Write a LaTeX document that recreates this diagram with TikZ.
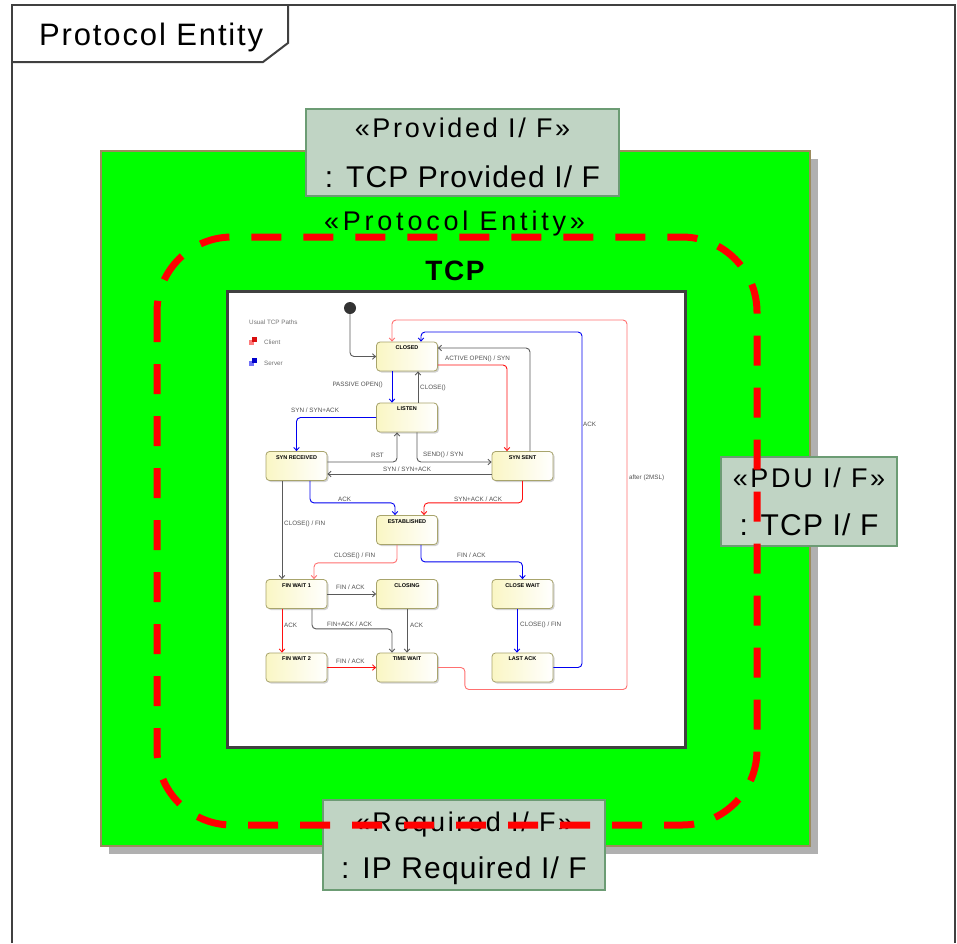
\documentclass[tikz,border=0pt]{standalone}
\usepackage{fontspec}
\setmainfont{Liberation Sans}
\newfontfamily\stereofont[LetterSpace=10]{Liberation Sans}
\newfontfamily\entityfont[LetterSpace=14]{Liberation Sans}
\newfontfamily\namefont[LetterSpace=4]{Liberation Sans}
\newfontfamily\titlefont[LetterSpace=6]{Liberation Sans}
\usetikzlibrary{arrows.meta,shadows}
\definecolor{framegray}{HTML}{404040}
\definecolor{entitygreen}{HTML}{00FF00}
\definecolor{entityrim}{HTML}{9C8C5C}
\definecolor{shadowgray}{HTML}{B0B0B0}
\definecolor{portfill}{HTML}{C0D4C4}
\definecolor{portrim}{HTML}{6C9C74}
\definecolor{statefill}{HTML}{FAF6C4}
\definecolor{staterim}{HTML}{A8A46C}
\definecolor{pathgray}{HTML}{5A5A5A}
\definecolor{pathblue}{HTML}{0000F0}
\definecolor{pathred}{HTML}{FF1010}
\definecolor{pathsalmon}{HTML}{FF7070}
\definecolor{lblgray}{HTML}{505050}
\begin{document}
\begin{tikzpicture}
	[x=1pt, y=-1pt,
	frame line/.style={draw=framegray, line width=2pt},
	entity/.style={fill=entitygreen, draw=entityrim, line width=1.2pt,
		minimum width=709pt, minimum height=695pt, inner sep=0pt,
		drop shadow={shadow xshift=8pt, shadow yshift=-8pt, fill=shadowgray, opacity=1}},
	port/.style={fill=portfill, draw=portrim, line width=2pt, align=center, inner sep=0pt,
		font=\stereofont\fontsize{27}{48}\selectfont},
	state/.style={draw=staterim, line width=0.8pt, rounded corners=3.5pt,
		minimum width=61pt, minimum height=29pt, inner sep=0pt,
		left color=statefill, right color=white,
		drop shadow={shadow xshift=1.5pt, shadow yshift=-1.5pt, fill=black!35, opacity=0.5},
		label={[anchor=north, inner sep=0pt, yshift=-4pt, font=\bfseries\fontsize{5.5}{6}\selectfont]north:#1}},
	trans/.style={line width=0.9pt, rounded corners=4pt, -{Straight Barb[length=3pt, width=5.5pt]}},
	trlbl/.style={anchor=west, inner sep=0pt, text=lblgray, font=\fontsize{6.3}{7}\selectfont}]
	\useasboundingbox (0,0) rectangle (957,943);
	\draw[frame line] (12,943) -- (12,5) -- (955,5) -- (955,943);
	\draw[frame line] (12,62) -- (263,62) -- (288,43) -- (288,5);
	\node[anchor=base west, inner sep=0pt, font=\titlefont\fontsize{31}{34}\selectfont] (frame title) at (39,45) {Protocol Entity};
	\node[entity] (entity) at (455.5,498.5) {};
	\node[port, minimum width=313pt, minimum height=87pt] (provided) at (462.5,152.5)
		{«Provided I/ F»\\[2pt]{\namefont\fontsize{30}{48}\selectfont : TCP Provided I/ F}};
	\node[port, minimum width=176pt, minimum height=89pt] (pdu) at (809,501.5)
		{«PDU I/ F»\\{\namefont\fontsize{30}{48}\selectfont : TCP I/ F}};
	\node[port, minimum width=282pt, minimum height=90pt] (required) at (464,845)
		{«Required I/ F»\\[-1pt]{\namefont\fontsize{30}{48}\selectfont\raisebox{0pt}[\height][0pt]{: IP Required I/ F}}};
	\node[anchor=base, inner sep=0pt, font=\entityfont\fontsize{27}{30}\selectfont] (stereo) at (454.5,230) {«Protocol Entity»};
	\node[anchor=base, inner sep=0pt, font=\titlefont\fontsize{28}{30}\selectfont\bfseries] (tcp name) at (455,280) {TCP};
	\node[draw=framegray, fill=white, line width=3pt, minimum width=458pt, minimum height=456pt, inner sep=0pt] (tcp) at (456,519) {};
	\node[anchor=west, inner sep=0pt, text=black!55, font=\fontsize{6.3}{7}\selectfont] (legend) at (249,322) {Usual TCP Paths};
	\fill[pathred!55] (249,340) rectangle (254,345);
	\fill[pathred!85!black] (252,337) rectangle (257,342);
	\fill[pathblue!55] (249,361) rectangle (254,366);
	\fill[pathblue!85!black] (252,358) rectangle (257,363);
	\node[anchor=west, inner sep=0pt, text=black!55, font=\fontsize{6.3}{7}\selectfont] (client) at (264,342) {Client};
	\node[anchor=west, inner sep=0pt, text=black!55, font=\fontsize{6.3}{7}\selectfont] (server) at (264,363) {Server};
	\node[circle, fill=black!80, minimum size=12pt, inner sep=0pt] (init) at (350,308) {};
	\node[state=CLOSED] (closed) at (407,356.5) {};
	\node[state=LISTEN] (listen) at (407,417.5) {};
	\node[state=SYN RECEIVED] (synrcvd) at (296.5,466) {};
	\node[state=SYN SENT] (synsent) at (522.5,466) {};
	\node[state=ESTABLISHED] (estab) at (407,530) {};
	\node[state=FIN WAIT 1] (finwait1) at (296.5,594) {};
	\node[state=CLOSING] (closing) at (407,594) {};
	\node[state=CLOSE WAIT] (closewait) at (522.5,594) {};
	\node[state=FIN WAIT 2] (finwait2) at (296.5,667.5) {};
	\node[state=TIME WAIT] (timewait) at (407,667.5) {};
	\node[state=LAST ACK] (lastack) at (522.5,667.5) {};
	\draw[trans, color=pathgray] (init) |- (closed.west);
	\draw[trans, color=pathsalmon] (timewait.east) -| ++(27,22) -| (627,320) -| ([xshift=-15pt]closed.north);
	\draw[trans, color=pathblue] (lastack.east) -| (582,332) -| ([xshift=14pt]closed.north);
	\draw[trans, color=pathgray] ([xshift=7.5pt]synsent.north) |- ([yshift=8.5pt]closed.east);
	\draw[trans, color=pathred] ([yshift=-8.5pt]closed.east) -| ([xshift=-15.5pt]synsent.north);
	\draw[trans, color=pathblue] ([xshift=-15pt]closed.south) -- ([xshift=-15pt]listen.north);
	\draw[trans, color=pathgray] ([xshift=11pt]listen.north) -- ([xshift=11pt]closed.south);
	\draw[trans, color=pathblue] (listen.west) -| (synrcvd.north);
	\draw[trans, color=pathgray] ([yshift=4pt]synrcvd.east) -| ([xshift=-10pt]listen.south);
	\draw[trans, color=pathgray] ([xshift=10pt]listen.south) |- ([yshift=4pt]synsent.west);
	\draw[trans, color=pathgray] ([yshift=-8pt]synsent.west) -- ([yshift=-8pt]synrcvd.east);
	\draw[trans, color=pathblue] ([xshift=13.5pt]synrcvd.south) -- ++(0,22) -| ([xshift=-12pt]estab.north);
	\draw[trans, color=pathred] (synsent.south) -- ++(0,22) -| ([xshift=17pt]estab.north);
	\draw[trans, color=pathgray] ([xshift=-14.5pt]synrcvd.south) -- ([xshift=-14.5pt]finwait1.north);
	\draw[trans, color=pathsalmon] ([xshift=-10pt]estab.south) -- ++(0,18) -| ([xshift=17.5pt]finwait1.north);
	\draw[trans, color=pathblue] ([xshift=14pt]estab.south) -- ++(0,17) -| (closewait.north);
	\draw[trans, color=pathgray] (finwait1.east) -- (closing.west);
	\draw[trans, color=pathred] ([xshift=-14.5pt]finwait1.south) -- ([xshift=-14.5pt]finwait2.north);
	\draw[trans, color=pathgray] ([xshift=15.5pt]finwait1.south) -- ++(0,20) -| ([xshift=-15pt]timewait.north);
	\draw[trans, color=pathgray] (closing.south) -- (timewait.north);
	\draw[trans, color=pathred] (finwait2.east) -- (timewait.west);
	\draw[trans, color=pathblue] ([xshift=-5.5pt]closewait.south) -- ([xshift=-5.5pt]lastack.north);
	\node[trlbl] (l msl) at (629,478) {after (2MSL)};
	\node[trlbl] (l lastack) at (583,424) {ACK};
	\node[trlbl] (l active) at (445,359) {ACTIVE OPEN() / SYN};
	\node[trlbl, anchor=east] (l passive) at (383,385) {PASSIVE OPEN()};
	\node[trlbl] (l close) at (420,388) {CLOSE()};
	\node[trlbl] (l listen) at (291,410) {SYN / SYN+ACK};
	\node[trlbl] (l rst) at (371,455) {RST};
	\node[trlbl] (l send) at (423,455) {SEND() / SYN};
	\node[trlbl] (l synsent) at (383,469) {SYN / SYN+ACK};
	\node[trlbl] (l ack) at (338,499) {ACK};
	\node[trlbl] (l synack) at (454,499) {SYN+ACK / ACK};
	\node[trlbl] (l close rcvd) at (284,524) {CLOSE() / FIN};
	\node[trlbl] (l close estab) at (334,556) {CLOSE() / FIN};
	\node[trlbl] (l fin estab) at (457,555) {FIN / ACK};
	\node[trlbl] (l fin one) at (336,587) {FIN / ACK};
	\node[trlbl] (l ack one) at (284,625) {ACK};
	\node[trlbl] (l finack) at (327,624) {FIN+ACK / ACK};
	\node[trlbl] (l ack closing) at (410,625) {ACK};
	\node[trlbl] (l fin two) at (336,661) {FIN / ACK};
	\node[trlbl] (l close wait) at (520,625) {CLOSE() / FIN};
	\draw[red, line width=7pt, dash pattern=on 30pt off 22pt, rounded corners=75pt] (157,237) rectangle (757,825);
\end{tikzpicture}
\end{document}
